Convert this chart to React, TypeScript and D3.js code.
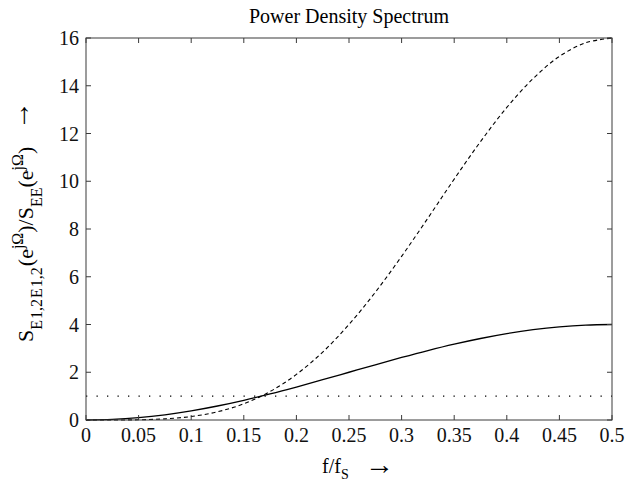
import React from 'react'
import * as d3 from 'd3'

// f/fs sample points
const freq = [
  0, 0.025, 0.05, 0.075, 0.1, 0.125, 0.15, 0.175, 0.2, 0.225, 0.25, 0.275, 0.3, 0.325, 0.35, 0.375, 0.4,
  0.425, 0.45, 0.475, 0.5
]
// first order shaping (solid)
const firstOrder = [
  0, 0.025, 0.098, 0.218, 0.382, 0.586, 0.824, 1.092, 1.382, 1.687, 2.0, 2.313, 2.618, 2.908, 3.176, 3.414,
  3.618, 3.782, 3.902, 3.975, 4.0
]
// second order shaping (dashed)
const secondOrder = [
  0, 0.001, 0.01, 0.048, 0.146, 0.343, 0.68, 1.193, 1.91, 2.846, 4.0, 5.35, 6.854, 8.456, 10.09, 11.66, 13.09,
  14.3, 15.23, 15.8, 16.0
]
// unshaped reference (dotted)
const flatFreq = [0, 0.5]
const flatLevel = [1, 1]

const xTicks = [0, 0.05, 0.1, 0.15, 0.2, 0.25, 0.3, 0.35, 0.4, 0.45, 0.5]
const xTickLabels = ['0', '0.05', '0.1', '0.15', '0.2', '0.25', '0.3', '0.35', '0.4', '0.45', '0.5']
const yTicks = [0, 2, 4, 6, 8, 10, 12, 14, 16]
const yTickLabels = ['0', '2', '4', '6', '8', '10', '12', '14', '16']

const width = 625
const height = 482
const margin = { top: 38, right: 13, bottom: 62, left: 86 }
const font = '"Liberation Serif", "Times New Roman", serif'

export default function App() {
  const innerW = width - margin.left - margin.right
  const innerH = height - margin.top - margin.bottom
  const x = d3.scaleLinear().domain([0, 0.5]).range([margin.left, margin.left + innerW])
  const y = d3.scaleLinear().domain([0, 16]).range([margin.top + innerH, margin.top])

  const line = d3
    .line<[number, number]>()
    .x((d) => x(d[0]))
    .y((d) => y(d[1]))
    .curve(d3.curveCatmullRom.alpha(0.5))

  const solidPath = line(freq.map((f, i) => [f, firstOrder[i]])) ?? ''
  const dashedPath = line(freq.map((f, i) => [f, secondOrder[i]])) ?? ''
  const dottedPath = d3
    .line<[number, number]>()
    .x((d) => x(d[0]))
    .y((d) => y(d[1]))(flatFreq.map((f, i) => [f, flatLevel[i]])) ?? ''

  const left = x(0)
  const right = x(0.5)
  const top = y(16)
  const bottom = y(0)
  const tick = 5
  const axisColor = '#3a3a3a'

  return (
    <div style={{ position: 'absolute', left: 0, top: 0 }}>
      <svg width={width} height={height} style={{ display: 'block', background: '#fff' }} fontFamily={font}>
        <defs>
          <clipPath id="plot-clip">
            <rect x={left} y={top - 1} width={right - left} height={bottom - top + 2} />
          </clipPath>
        </defs>

        <text x={(left + right) / 2} y={23} textAnchor="middle" fontSize={20} fill="#000">
          Power Density Spectrum
        </text>

        <g clipPath="url(#plot-clip)" fill="none">
          <path d={dottedPath} stroke="#000" strokeWidth={1.3} strokeDasharray="1.3,9.2" />
          <path d={dashedPath} stroke="#000" strokeWidth={1.1} strokeDasharray="4,3" />
          <path d={solidPath} stroke="#000" strokeWidth={1.3} />
        </g>

        {/* box */}
        <rect x={left} y={top} width={right - left} height={bottom - top} fill="none" stroke={axisColor} strokeWidth={1} />

        {xTicks.map((t, i) => (
          <g key={`x${i}`}>
            <line x1={x(t)} x2={x(t)} y1={bottom} y2={bottom - tick} stroke={axisColor} />
            <line x1={x(t)} x2={x(t)} y1={top} y2={top + tick} stroke={axisColor} />
            <text x={x(t)} y={bottom + 22} textAnchor="middle" fontSize={20} fill="#111">
              {xTickLabels[i]}
            </text>
          </g>
        ))}

        {yTicks.map((t, i) => (
          <g key={`y${i}`}>
            <line x1={left} x2={left + tick} y1={y(t)} y2={y(t)} stroke={axisColor} />
            <line x1={right} x2={right - tick} y1={y(t)} y2={y(t)} stroke={axisColor} />
            <text x={left - 7} y={y(t) + 7} textAnchor="end" fontSize={20} fill="#111">
              {yTickLabels[i]}
            </text>
          </g>
        ))}

        {/* x label */}
        <text x={322} y={473} fontSize={20} fill="#000">
          f/f
          <tspan fontSize={14} dy={6}>
            S
          </tspan>
        </text>
        <text x={365} y={474} fontSize={29} fill="#000">
          →
        </text>

        {/* y label */}
        <text transform="translate(33,342) rotate(-90)" fontSize={22} fill="#000">
          S
          <tspan fontSize={16} dy={9}>
            E
          </tspan>
          <tspan fontSize={16} dx={1}>
            1,2
          </tspan>
          <tspan fontSize={16} dx={1}>
            E
          </tspan>
          <tspan fontSize={16} dx={1}>
            1,2
          </tspan>
          <tspan dy={-9} dx={1}>
            (e
          </tspan>
          <tspan fontSize={16} dy={-10}>
            jΩ
          </tspan>
          <tspan dy={10}>)/S</tspan>
          <tspan fontSize={16} dy={9}>
            EE
          </tspan>
          <tspan dy={-9}>(e</tspan>
          <tspan fontSize={16} dy={-10}>
            jΩ
          </tspan>
          <tspan dy={10}>)</tspan>
        </text>
        <text transform="translate(29,130) rotate(-90)" fontSize={29} fill="#000">
          →
        </text>
      </svg>
    </div>
  )
}
